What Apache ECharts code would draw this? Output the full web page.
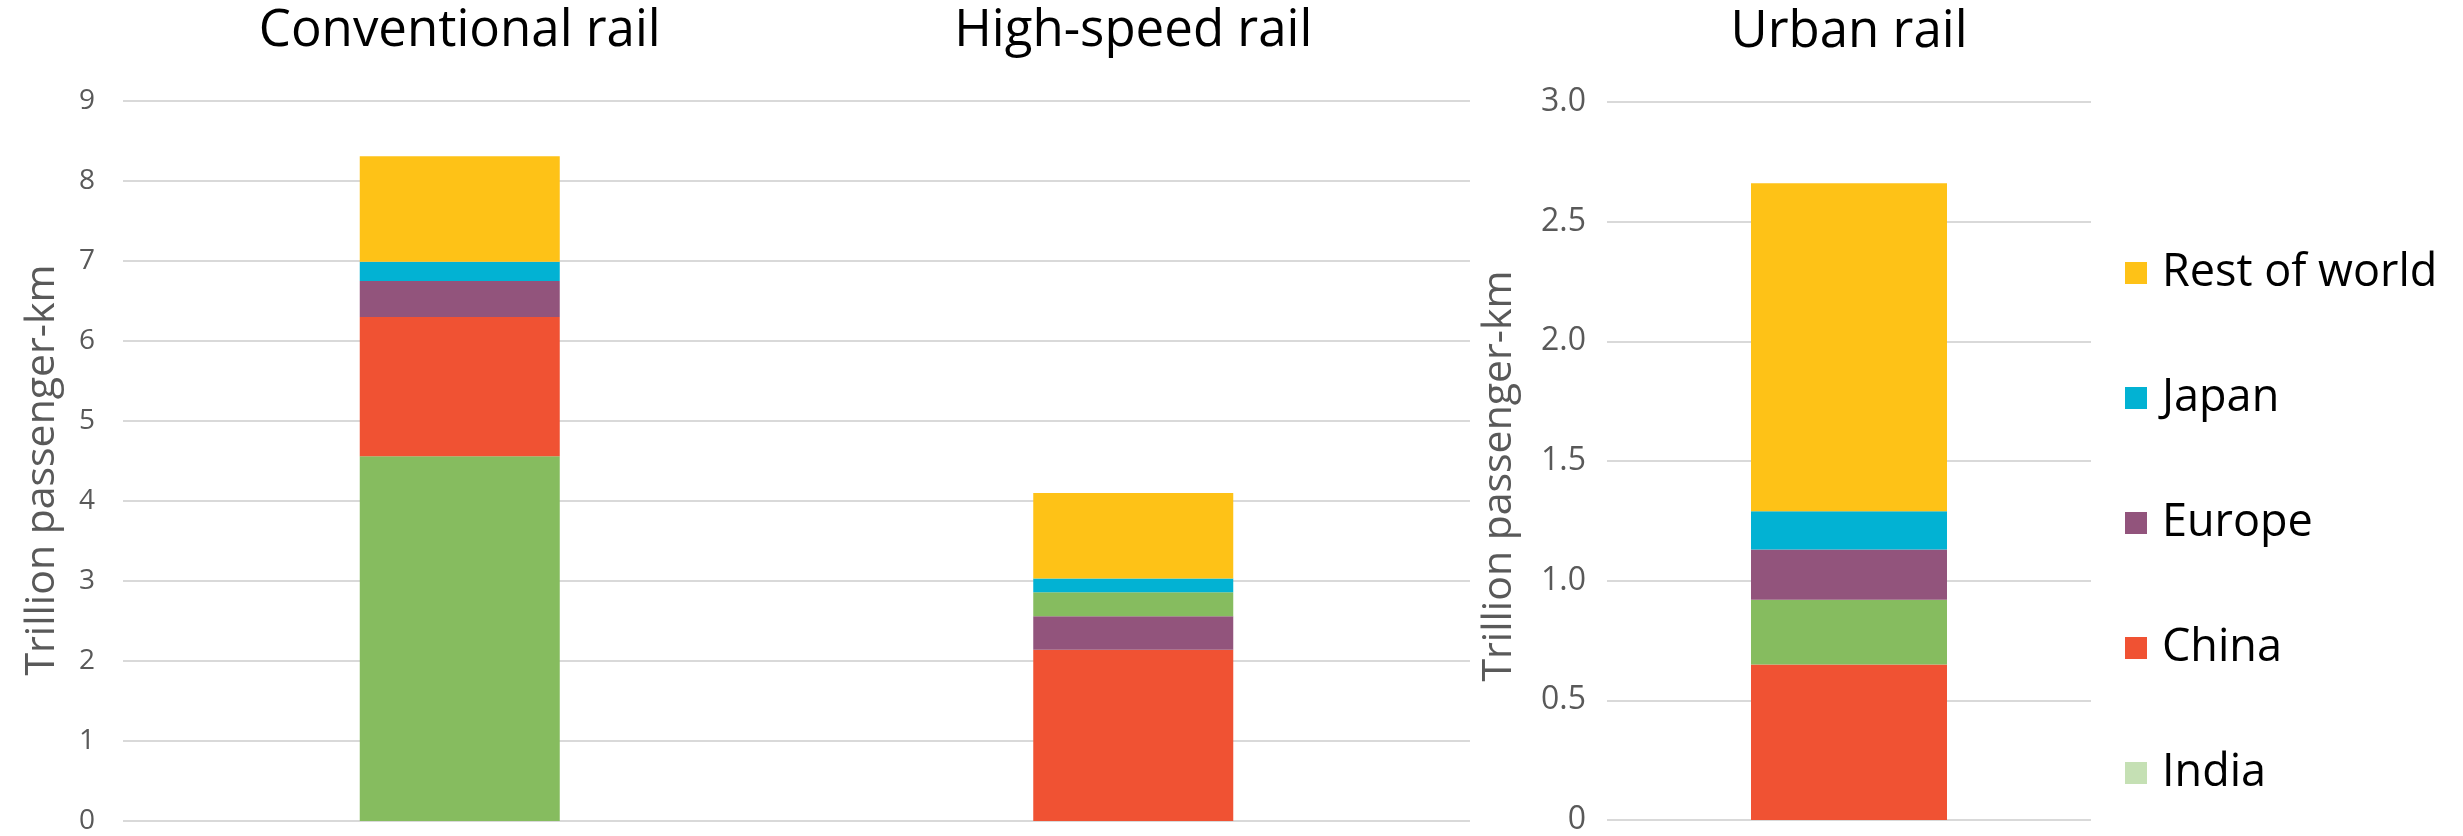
<!DOCTYPE html>
<html>
<head>
<meta charset="utf-8">
<title>Rail passenger activity by region</title>
<script src="https://cdn.jsdelivr.net/npm/echarts@6/dist/echarts.min.js"></script>
<style>
  html, body { margin: 0; padding: 0; background: #ffffff; }
  #chart { width: 2463px; height: 836px; }
</style>
</head>
<body>
<div id="chart"></div>
<script>
// Categories of the two panels
const leftCategories = ['Conventional rail', 'High-speed rail'];
const rightCategories = ['Urban rail'];

// Legend entries, top to bottom
const legendNames = ['Rest of world', 'Japan', 'Europe', 'China', 'India'];

// Trillion passenger-km, left panel [conventional, high-speed]
const indiaLower = [4.56, null];   // green block at the base of conventional rail
const chinaLeft = [1.74, 2.14];
const europeLeft = [0.45, 0.42];
const indiaUpper = [null, 0.30];   // green block above Europe in high-speed rail
const japanLeft = [0.24, 0.17];
const restLeft = [1.32, 1.07];

// Trillion passenger-km, urban rail
const chinaUrban = [0.65];
const indiaUrban = [0.27];
const europeUrban = [0.21];
const japanUrban = [0.16];
const restUrban = [1.37];

// Axis ranges
const leftAxis = { min: 0, max: 9, interval: 1 };
const rightAxis = { min: 0, max: 3, interval: 0.5 };

const COLORS = {
  'Rest of world': '#FEC217',
  'Japan': '#02B2D3',
  'Europe': '#92547C',
  'China': '#F05233',
  'India': '#86BC5F'
};
const INDIA_KEY = '#C5E0B4';
const FONT = "'Open Sans', 'Noto Sans', sans-serif";

function bar(name, data, grid, stack, width) {
  return {
    name: name,
    type: 'bar',
    stack: stack,
    xAxisIndex: grid,
    yAxisIndex: grid,
    barWidth: width,
    data: data,
    itemStyle: { color: COLORS[name] },
    emphasis: { disabled: true }
  };
}

const chart = echarts.init(document.getElementById('chart'), null, { renderer: 'canvas' });

const yAxisName = 'Trillion passenger-km';

chart.setOption({
  backgroundColor: '#ffffff',
  animation: false,
  textStyle: { fontFamily: FONT },
  legend: {
    orient: 'vertical',
    left: 2120,
    top: 245,
    itemWidth: 22,
    itemHeight: 22,
    itemGap: 79,
    icon: 'rect',
    selectedMode: false,
    textStyle: { fontSize: 45, lineHeight: 46, color: '#000000', fontFamily: FONT, padding: [0, 0, 0, 10] },
    data: legendNames.map(function (n) {
      return n === 'India'
        ? { name: n, itemStyle: { color: INDIA_KEY } }
        : { name: n };
    })
  },
  grid: [
    { left: 123, top: 101, width: 1347, height: 720 },
    { left: 1607, top: 102, width: 484, height: 721 }
  ],
  xAxis: [
    {
      type: 'category', gridIndex: 0, position: 'top',
      data: leftCategories,
      axisLine: { show: false }, axisTick: { show: false },
      axisLabel: { fontSize: 51, color: '#000000', margin: 44, fontFamily: FONT }
    },
    {
      type: 'category', gridIndex: 1, position: 'top',
      data: rightCategories,
      axisLine: { show: false }, axisTick: { show: false },
      axisLabel: { fontSize: 51, color: '#000000', margin: 44, fontFamily: FONT }
    }
  ],
  yAxis: [
    {
      type: 'value', gridIndex: 0,
      min: leftAxis.min, max: leftAxis.max, interval: leftAxis.interval,
      name: yAxisName, nameLocation: 'middle', nameGap: 60, nameRotate: 90,
      nameTextStyle: { fontSize: 41, color: '#595959', fontFamily: FONT, padding: [0, 18, 0, 0] },
      axisLine: { show: false }, axisTick: { show: false },
      axisLabel: { fontSize: 28, color: '#595959', margin: 28, fontFamily: FONT },
      splitLine: { lineStyle: { color: '#D9D9D9', width: 2 } }
    },
    {
      type: 'value', gridIndex: 1,
      min: rightAxis.min, max: rightAxis.max, interval: rightAxis.interval,
      name: yAxisName, nameLocation: 'middle', nameGap: 87, nameRotate: 90,
      nameTextStyle: { fontSize: 41, color: '#595959', fontFamily: FONT, padding: [0, 30, 0, 0] },
      axisLine: { show: false }, axisTick: { show: false },
      axisLabel: {
        fontSize: 32, color: '#595959', margin: 21, fontFamily: FONT,
        formatter: function (v) { return v === 0 ? '0' : v.toFixed(1); }
      },
      splitLine: { lineStyle: { color: '#D9D9D9', width: 2 } }
    }
  ],
  series: [
    bar('India', indiaLower, 0, 'left', 200),
    bar('China', chinaLeft, 0, 'left', 200),
    bar('Europe', europeLeft, 0, 'left', 200),
    bar('India', indiaUpper, 0, 'left', 200),
    bar('Japan', japanLeft, 0, 'left', 200),
    bar('Rest of world', restLeft, 0, 'left', 200),

    bar('China', chinaUrban, 1, 'urban', 196),
    bar('India', indiaUrban, 1, 'urban', 196),
    bar('Europe', europeUrban, 1, 'urban', 196),
    bar('Japan', japanUrban, 1, 'urban', 196),
    bar('Rest of world', restUrban, 1, 'urban', 196)
  ]
});
</script>
</body>
</html>
